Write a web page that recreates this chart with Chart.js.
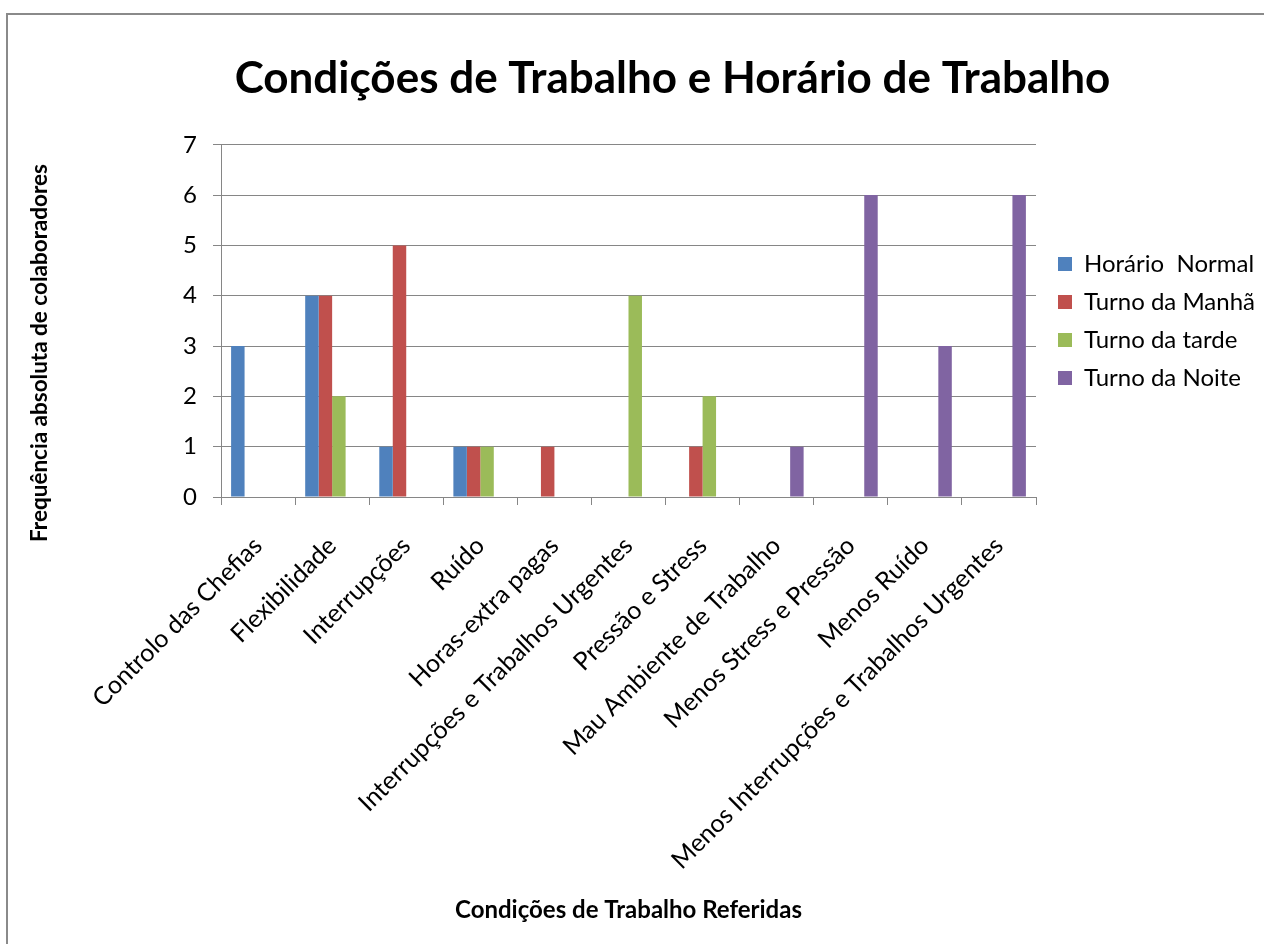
<!DOCTYPE html>
<html>
<head>
<meta charset="utf-8">
<script src="https://cdn.jsdelivr.net/npm/chart.js@4.4.0/dist/chart.umd.min.js"></script>
<style>
    html, body { margin: 0; padding: 0; background: #fff; overflow: hidden; }
    #wrap { width: 1264px; height: 944px; overflow: hidden; position: relative; }
    canvas { position: absolute; left: 0; top: 0; }
</style>
</head>
<body>
<div id="wrap"><canvas id="grafico" width="1340" height="944"></canvas></div>
<script>
// Datos
const categorias = [
    'Controlo das Chefias',
    'Flexibilidade',
    'Interrupções',
    'Ruído',
    'Horas-extra pagas',
    'Interrupções e Trabalhos Urgentes',
    'Pressão e Stress',
    'Mau Ambiente de Trabalho',
    'Menos Stress e Pressão',
    'Menos Ruído',
    'Menos Interrupções e Trabalhos Urgentes'
];
const nomesSeries = ['Horário  Normal', 'Turno da Manhã', 'Turno da tarde', 'Turno da Noite'];
const horarioNormal = [3, 4, 1, 1, 0, 0, 0, 0, 0, 0, 0];
const turnoManha    = [0, 4, 5, 1, 1, 0, 1, 0, 0, 0, 0];
const turnoTarde    = [0, 2, 0, 1, 0, 4, 2, 0, 0, 0, 0];
const turnoNoite    = [0, 0, 0, 0, 0, 0, 0, 1, 6, 3, 6];
const cores = ['#4F81BD', '#C0504D', '#9BBB59', '#8064A2'];
const eixoYMin = 0, eixoYMax = 7, eixoYPasso = 1;

const tituloY = 'Frequência absoluta de colaboradores';
const cinza = '#868686';

Chart.defaults.font.family = 'Lato, "Open Sans", sans-serif';
Chart.defaults.color = '#000';

// moldura, título do eixo Y e centragem do título
const moldura = {
    id: 'moldura',
    beforeDraw(chart) {
        const ctx = chart.ctx;
        ctx.save();
        ctx.fillStyle = '#fff';
        ctx.fillRect(0, 0, chart.width, chart.height);
        ctx.strokeStyle = '#8a8a8a';
        ctx.lineWidth = 2;
        ctx.strokeRect(7, 14, 1331, 1000);
        ctx.restore();
    },
    afterLayout(chart) {
        chart.titleBlock.left = 7;
        chart.titleBlock.right = 1338;
        chart.legend.left += 8;
        chart.legend.right += 8;
    },
    afterDraw(chart) {
        const ctx = chart.ctx;
        ctx.save();
        ctx.translate(40, 353);
        ctx.rotate(-Math.PI / 2);
        ctx.font = 'bold 22.5px Lato, "Open Sans", sans-serif';
        ctx.fillStyle = '#000';
        ctx.textAlign = 'center';
        ctx.textBaseline = 'middle';
        ctx.fillText(tituloY, 0, 0);
        ctx.restore();
    }
};

const ctx = document.getElementById('grafico').getContext('2d');
const chart = new Chart(ctx, {
    type: 'bar',
    data: {
        labels: categorias,
        datasets: [horarioNormal, turnoManha, turnoTarde, turnoNoite].map((valores, i) => ({
            label: nomesSeries[i],
            data: valores,
            backgroundColor: cores[i],
            borderWidth: 0,
            categoryPercentage: 4 / 5.5,
            barPercentage: 1
        }))
    },
    options: {
        responsive: false,
        animation: false,
        layout: { padding: { left: 0, top: 0, right: 80, bottom: 19 } },
        plugins: {
            title: {
                display: true,
                text: 'Condições de Trabalho e Horário de Trabalho',
                color: '#000',
                font: { size: 44, weight: 'bold' },
                padding: { top: 52, bottom: 40 }
            },
            legend: {
                position: 'right',
                fullSize: false,
                align: 'center',
                labels: {
                    boxWidth: 14,
                    boxHeight: 14,
                    padding: 14,
                    color: '#000',
                    font: { size: 24 }
                }
            },
            tooltip: { enabled: false }
        },
        scales: {
            x: {
                grid: { drawOnChartArea: false, color: cinza, tickLength: 8 },
                border: { color: cinza },
                ticks: {
                    autoSkip: false,
                    maxRotation: 45,
                    minRotation: 45,
                    padding: 26,
                    color: '#000',
                    font: { size: 25 }
                },
                title: {
                    display: true,
                    text: 'Condições de Trabalho Referidas',
                    color: '#000',
                    font: { size: 24, weight: 'bold' },
                    padding: 0
                },
                afterFit(scale) { scale.height = 428; }
            },
            y: {
                min: eixoYMin,
                max: eixoYMax,
                grid: { color: cinza, tickLength: 8 },
                border: { color: cinza },
                ticks: {
                    stepSize: eixoYPasso,
                    padding: 16,
                    color: '#000',
                    font: { size: 24 }
                },
                afterFit(scale) { scale.width = 221; }
            }
        }
    },
    plugins: [moldura]
});

// ajustar a margem direita para que a área do gráfico termine em x = 1036
const dif = chart.chartArea.right - 1036;
if (Math.abs(dif) > 0.5) {
    chart.options.layout.padding.right += dif;
    chart.update('none');
}
</script>
</body>
</html>
